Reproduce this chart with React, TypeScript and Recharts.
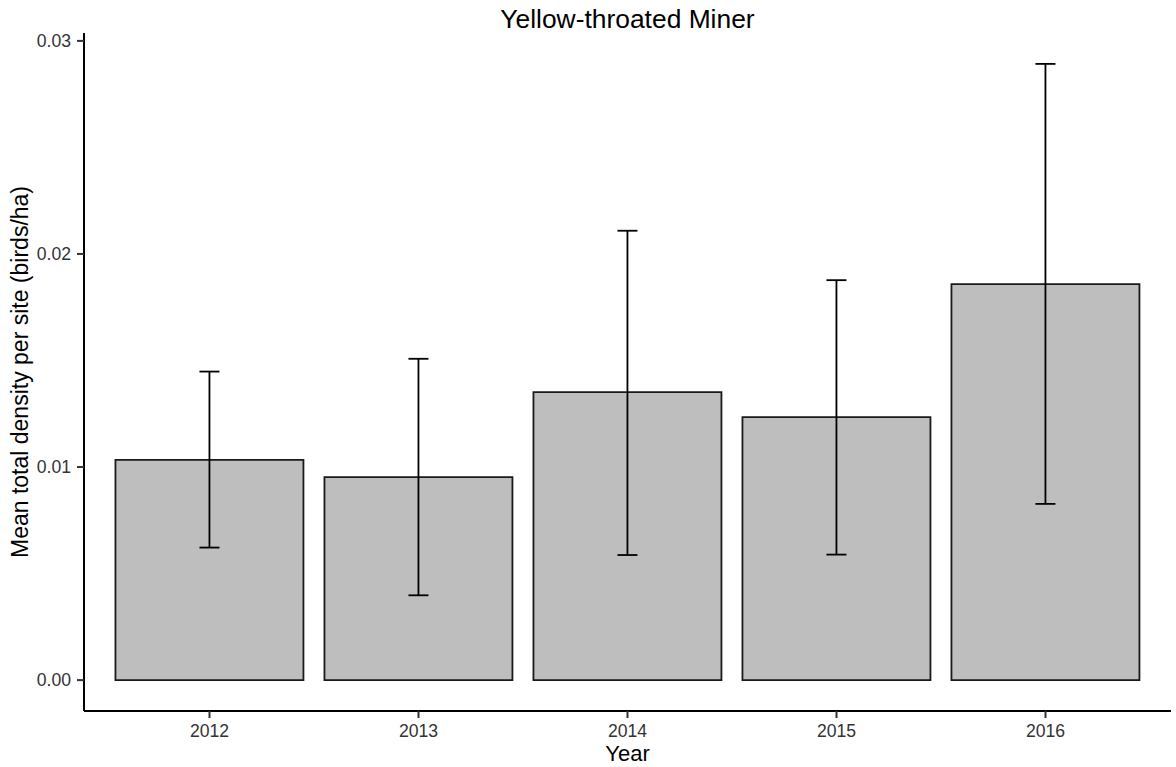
import { BarChart, Bar, XAxis, YAxis, ErrorBar } from "recharts";

const years = ["2012", "2013", "2014", "2015", "2016"];
const meanDensity = [0.01034, 0.00953, 0.01352, 0.01234, 0.01858];
const lowerBound = [0.00622, 0.00398, 0.00587, 0.00589, 0.00827];
const upperBound = [0.01448, 0.01508, 0.02109, 0.01877, 0.02892];
const yTicks = [0, 0.01, 0.02, 0.03];

const FONT = '"Liberation Sans", Arial, Helvetica, sans-serif';

// error bar needs [minus, plus] offsets from the mean
const data = years.map((year, i) => ({
  year,
  mean: meanDensity[i],
  err: [meanDensity[i] - lowerBound[i], upperBound[i] - meanDensity[i]],
}));

export default function App() {
  return (
    <div style={{ position: "absolute", left: 0, top: 0, width: 1176, height: 767, background: "#fff", fontFamily: FONT }}>
      <div
        style={{
          position: "absolute",
          left: 84,
          width: 1087,
          top: 3,
          textAlign: "center",
          fontSize: 26.4,
          lineHeight: "32px",
          color: "#000",
        }}
      >
        Yellow-throated Miner
      </div>
      <BarChart
        width={1176}
        height={767}
        data={data}
        margin={{ top: 33, right: 5, bottom: 0, left: 0 }}
        barCategoryGap="5%"
      >
        <XAxis
          dataKey="year"
          height={56}
          padding={{ left: 21, right: 21 }}
          axisLine={{ stroke: "#000", strokeWidth: 2 }}
          tickLine={{ stroke: "#333", strokeWidth: 2 }}
          tickSize={7}
          tickMargin={7}
          tick={{ fill: "#333", fontSize: 17.6, fontFamily: FONT }}
          label={{ value: "Year", position: "insideBottom", offset: 6, fill: "#000", fontSize: 22, fontFamily: FONT }}
        />
        <YAxis
          width={84}
          domain={[-0.00145, 0.03037]}
          allowDataOverflow
          ticks={yTicks}
          tickFormatter={(v: number) => v.toFixed(2)}
          axisLine={{ stroke: "#000", strokeWidth: 2 }}
          tickLine={{ stroke: "#333", strokeWidth: 2 }}
          tickSize={7}
          tickMargin={6}
          tick={{ fill: "#333", fontSize: 17.6, fontFamily: FONT }}
          label={{
            value: "Mean total density per site (birds/ha)",
            angle: -90,
            position: "insideLeft",
            offset: 20,
            fill: "#000",
            fontSize: 23,
            fontFamily: FONT,
            style: { textAnchor: "middle" },
          }}
        />
        <Bar dataKey="mean" fill="#bebebe" stroke="#1a1a1a" strokeWidth={1.8} isAnimationActive={false}>
          <ErrorBar dataKey="err" width={10} stroke="#000" strokeWidth={1.8} isAnimationActive={false} />
        </Bar>
      </BarChart>
    </div>
  );
}
